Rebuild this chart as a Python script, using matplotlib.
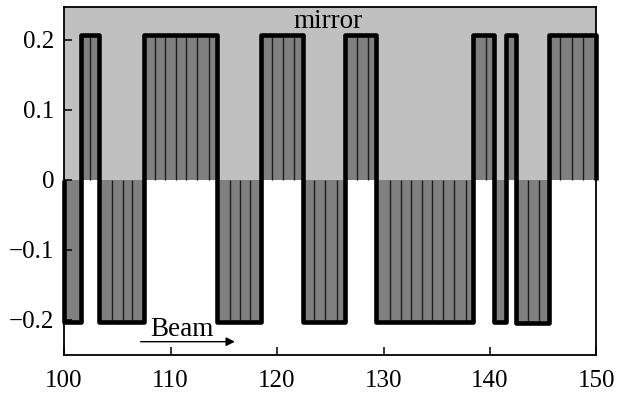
import matplotlib
matplotlib.use('Agg')
import matplotlib.pyplot as plt
import numpy as np

plt.rcParams['font.family'] = ['Liberation Serif', 'DejaVu Serif']

# switching points of the square wave and the level of each segment
edges = [100, 101.6, 103.3, 107.5, 114.4, 118.45, 122.4, 126.4, 129.3,
         138.45, 140.4, 141.5, 142.4, 145.5, 150]
levels = [-0.203, 0.206, -0.203, 0.206, -0.203, 0.206, -0.203, 0.206,
          -0.203, 0.206, -0.203, 0.206, -0.205, 0.206]
# thin vertical lines inside the bars
hatch_x = [102.4, 104.5, 105.5, 106.4, 108.5, 109.5, 110.5, 111.5, 112.5,
           113.6, 115.55, 116.5, 117.45, 119.5, 120.55, 121.6, 123.5, 124.5,
           125.6, 127.5, 128.5, 130.6, 131.6, 132.6, 133.6, 134.6, 135.6,
           136.6, 137.7, 139.6, 143.6, 144.6, 146.6, 147.7, 148.7]
xticks = [100, 110, 120, 130, 140, 150]
yticks = [-0.2, -0.1, 0, 0.1, 0.2]
ytick_labels = ['\u22120.2', '\u22120.1', '0', '0.1', '0.2']

fig = plt.figure(figsize=(6.18, 3.94), dpi=100)
ax = fig.add_axes([0.1036, 0.099, 0.8616, 0.884])
ylo, yhi = -0.25, 0.247

# light gray "mirror" half
ax.axhspan(0, yhi, color='#c0c0c0', lw=0, zorder=0)

# dark bars
e = np.array(edges)
lv = np.array(levels)
ax.bar(e[:-1], lv, width=np.diff(e), align='edge', color='#808080', lw=0, zorder=1)

# hatch lines
idx = np.searchsorted(e, hatch_x) - 1
ax.vlines(hatch_x, 0, lv[idx], color='#1e1e1e', lw=1.0, zorder=2)

# thick outline (step path)
xs = [edges[0]]
ys = [0]
for i in range(len(levels)):
    xs += [edges[i], edges[i + 1]]
    ys += [levels[i], levels[i]]
xs.append(edges[-1])
ys.append(0)
ax.plot(xs, ys, color='black', lw=3.3, solid_joinstyle='round',
        solid_capstyle='butt', zorder=3, clip_on=False)

ax.text(124.8, 0.2166, 'mirror', fontsize=19.5, ha='center', va='baseline', zorder=4)
ax.text(108.1, -0.2225, 'Beam', fontsize=19.5, ha='left', va='baseline', zorder=4)
ax.annotate('', xy=(116.05, -0.231), xytext=(107.2, -0.231),
            arrowprops=dict(arrowstyle='-|>', color='black', lw=1.0,
                            mutation_scale=13, shrinkA=0, shrinkB=0))

ax.set_xlim(100, 150)
ax.set_ylim(ylo, yhi)
ax.set_xticks(xticks)
ax.set_yticks(yticks)
ax.set_yticklabels(ytick_labels)
ax.tick_params(direction='in', length=6, width=1.1, labelsize=18)
ax.tick_params(axis='x', pad=11)
ax.tick_params(axis='y', pad=7)
for s in ax.spines.values():
    s.set_linewidth(1.3)
    s.set_zorder(5)

fig.savefig('out.png', dpi=100)
